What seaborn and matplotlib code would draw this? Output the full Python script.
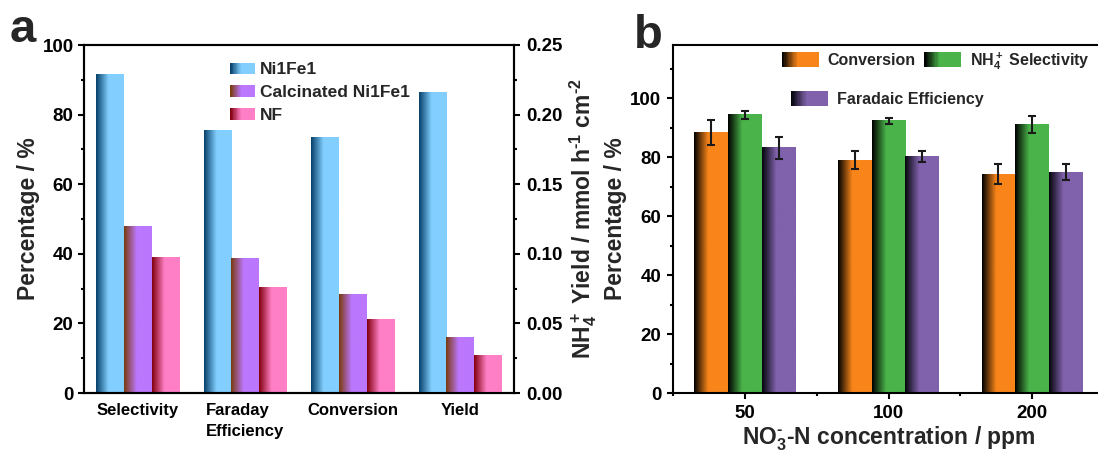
import matplotlib
matplotlib.use("Agg")
import matplotlib.pyplot as plt
import numpy as np
import pandas as pd
import seaborn as sns
from matplotlib.colors import to_rgb
from matplotlib.legend_handler import HandlerBase
from matplotlib.patches import Rectangle
from matplotlib.ticker import FormatStrFormatter, MultipleLocator

# ---- panel a: catalyst comparison ----
METRICS = ["Selectivity", "Faraday\nEfficiency", "Conversion", "Yield"]
SAMPLES = ["Ni1Fe1", "Calcinated Ni1Fe1", "NF"]
NI1FE1_PCT = [91.4, 75.3, 73.5]      # selectivity, FE, conversion (%)
CALC_PCT = [47.9, 38.7, 28.4]
NF_PCT = [39.0, 30.4, 21.2]
YIELD = [0.216, 0.040, 0.027]        # NH4+ yield, mmol h-1 cm-2 (Ni1Fe1, calcinated, NF)
LIGHT_A = ["#82cfff", "#bb77fd", "#ff7fc6"]
DARK_A = ["#06406a", "#7a3a0c", "#82000e"]

# ---- panel b: nitrate concentration ----
CONC = ["50", "100", "200"]
SERIES_B = ["Conversion", r"NH$_4^+$ Selectivity", "Faradaic Efficiency"]
CONVERSION = [88.2, 79.0, 74.2]
CONV_ERR = [4.2, 3.1, 3.3]
SELECTIVITY = [94.3, 92.3, 90.9]
SEL_ERR = [1.35, 1.0, 2.9]
FARADAIC = [83.1, 80.3, 74.9]
FE_ERR = [3.7, 1.9, 2.6]
LIGHT_B = ["#f9851a", "#4ab44a", "#8061ab"]
DARK_B = ["#000000", "#000000", "#05050c"]

sns.set_style("ticks")
plt.rcParams.update({
    "font.family": ["Liberation Sans", "DejaVu Sans"],
    "font.weight": "bold",
    "axes.labelweight": "bold",
    "mathtext.fontset": "custom",
    "mathtext.rm": "Liberation Sans:bold",
    "mathtext.bf": "Liberation Sans:bold",
    "mathtext.it": "Liberation Sans:bold",
    "mathtext.default": "rm",
    "axes.linewidth": 1.5,
    "axes.edgecolor": "black",
    "xtick.color": "black",
    "ytick.color": "black",
})


def ramp_colors(dark, light, n, frac):
    t = np.linspace(0, 1, n)
    r = np.clip(t / frac, 0, 1)[:, None]
    d, l = np.array(to_rgb(dark)), np.array(to_rgb(light))
    return d + (l - d) * r


def gradient_bars(ax, light, dark, frac):
    """Replace the flat seaborn bars with a left-to-right dark->light ramp."""
    lut = {tuple(np.round(to_rgb(c), 3)): (d, c) for c, d in zip(light, dark)}
    for p in list(ax.patches):
        key = tuple(np.round(p.get_facecolor()[:3], 3))
        if key not in lut or not p.get_height():
            continue
        d, l = lut[key]
        img = ramp_colors(d, l, 80, frac)[None, :, :]
        x, w, h = p.get_x(), p.get_width(), p.get_height()
        ax.imshow(img, extent=(x, x + w, 0, h), aspect="auto", origin="lower",
                  interpolation="bilinear", zorder=p.get_zorder())
        p.set_visible(False)


class GradKey:
    def __init__(self, dark, light, frac):
        self.dark, self.light, self.frac = dark, light, frac


class GradHandler(HandlerBase):
    def create_artists(self, legend, orig_handle, xdescent, ydescent,
                       width, height, fontsize, trans):
        n = 30
        cols = ramp_colors(orig_handle.dark, orig_handle.light, n, orig_handle.frac)
        step = width / n
        return [Rectangle((-xdescent + i * step, -ydescent), step * 1.05, height,
                          facecolor=c, edgecolor="none", transform=trans)
                for i, c in enumerate(cols)]


fig = plt.figure(figsize=(10.98, 4.53), dpi=100)
ax_a = fig.add_axes([84 / 1098, 60 / 453, 430 / 1098, 348 / 453])
ax_b = fig.add_axes([673 / 1098, 60 / 453, 431 / 1098, 348 / 453])

# ---------------- panel a ----------------
pct = [NI1FE1_PCT, CALC_PCT, NF_PCT]
df_pct = pd.DataFrame([
    {"metric": m, "sample": s, "value": pct[j][i]}
    for i, m in enumerate(METRICS[:3]) for j, s in enumerate(SAMPLES)
])
df_yield = pd.DataFrame({"metric": METRICS[3], "sample": SAMPLES, "value": YIELD})

sns.barplot(data=df_pct, x="metric", y="value", hue="sample", order=METRICS,
            hue_order=SAMPLES, palette=LIGHT_A, width=0.77, saturation=1,
            legend=False, ax=ax_a)
ax_a2 = ax_a.twinx()
sns.barplot(data=df_yield, x="metric", y="value", hue="sample", order=METRICS,
            hue_order=SAMPLES, palette=LIGHT_A, width=0.77, saturation=1,
            legend=False, ax=ax_a2)
gradient_bars(ax_a, LIGHT_A, DARK_A, 0.45)
gradient_bars(ax_a2, LIGHT_A, DARK_A, 0.45)

ax_a.set_xlim(-0.5, len(METRICS) - 0.5)
ax_a.set_ylim(0, 100)
ax_a2.set_ylim(0, 0.25)
ax_a.set_xticks(range(len(METRICS)))
ax_a.set_xticklabels(METRICS, fontsize=12, fontweight="bold",
                     multialignment="left", linespacing=1.55, va="top")
ax_a.tick_params(axis="x", length=0, pad=7)
ax_a.yaxis.set_major_locator(MultipleLocator(20))
ax_a.yaxis.set_minor_locator(MultipleLocator(10))
ax_a.tick_params(axis="y", which="major", direction="out", length=4.5, width=1.5,
                 labelsize=13.5, pad=3)
ax_a.tick_params(axis="y", which="minor", direction="out", length=2.5, width=1.5)
ax_a2.yaxis.set_major_locator(MultipleLocator(0.05))
ax_a2.yaxis.set_minor_locator(MultipleLocator(0.025))
ax_a2.yaxis.set_major_formatter(FormatStrFormatter("%.2f"))
ax_a2.tick_params(axis="y", which="major", direction="out", length=4.5, width=1.5,
                  labelsize=13.5, pad=4)
ax_a2.tick_params(axis="y", which="minor", direction="out", length=2.5, width=1.5)
for t in ax_a.get_yticklabels() + ax_a2.get_yticklabels():
    t.set_fontweight("bold")
ax_a.set_xlabel("")
ax_a2.set_xlabel("")
ax_a.set_ylabel("Percentage / %", fontsize=16.5, labelpad=2)
ax_a2.set_ylabel(r"NH$_4^+$ Yield / mmol h$^{\text{-}1}$ cm$^{\text{-}2}$",
                 fontsize=16.5, labelpad=4)

ax_a.legend(handles=[GradKey(d, l, 0.45) for d, l in zip(DARK_A, LIGHT_A)],
            labels=SAMPLES, handler_map={GradKey: GradHandler()},
            loc="upper left", bbox_to_anchor=(0.34, 0.95), frameon=False,
            borderpad=0, borderaxespad=0, handlelength=1.4, handleheight=0.65,
            handletextpad=0.3, labelspacing=0.45,
            prop={"size": 12.5, "weight": "bold"})

# ---------------- panel b ----------------
vals_b = [CONVERSION, SELECTIVITY, FARADAIC]
df_b = pd.DataFrame([
    {"conc": c, "series": s, "value": vals_b[j][i]}
    for i, c in enumerate(CONC) for j, s in enumerate(SERIES_B)
])
sns.barplot(data=df_b, x="conc", y="value", hue="series", order=CONC,
            hue_order=SERIES_B, palette=LIGHT_B, width=0.705, saturation=1,
            legend=False, ax=ax_b)

# error bars placed on the bar centres seaborn produced
err_lookup = dict(zip(np.round(CONVERSION + SELECTIVITY + FARADAIC, 2),
                      CONV_ERR + SEL_ERR + FE_ERR))
xs, ys, es = [], [], []
for p in ax_b.patches:
    h = round(p.get_height(), 2)
    if h in err_lookup:
        xs.append(p.get_x() + p.get_width() / 2)
        ys.append(p.get_height())
        es.append(err_lookup[h])
gradient_bars(ax_b, LIGHT_B, DARK_B, 0.42)
ax_b.errorbar(xs, ys, yerr=es, fmt="none", ecolor="#1a1a1a", elinewidth=1.5,
              capsize=3, capthick=1.5, zorder=5)

ax_b.set_xlim(-0.5, len(CONC) - 0.5)
ax_b.set_ylim(0, 118)
ax_b.yaxis.set_major_locator(MultipleLocator(20))
ax_b.yaxis.set_minor_locator(MultipleLocator(10))
ax_b.xaxis.set_minor_locator(MultipleLocator(1, offset=0.5))
ax_b.tick_params(which="major", direction="out", length=4.5, width=1.5,
                 labelsize=13.5, pad=4)
ax_b.tick_params(which="minor", direction="out", length=2.5, width=1.5)
for t in ax_b.get_xticklabels() + ax_b.get_yticklabels():
    t.set_fontweight("bold")
ax_b.set_xlabel(r"NO$_3^{\text{-}}$-N concentration / ppm", fontsize=16.5, labelpad=2)
ax_b.set_ylabel("Percentage / %", fontsize=16.5, labelpad=2)

keys_b = [GradKey(d, l, 0.42) for d, l in zip(DARK_B, LIGHT_B)]
leg_b1 = ax_b.legend(handles=keys_b[:2], labels=SERIES_B[:2],
                     handler_map={GradKey: GradHandler()}, ncol=2,
                     loc="upper left", bbox_to_anchor=(0.253, 0.986), frameon=False,
                     borderpad=0, borderaxespad=0, handlelength=2.3, handleheight=1.1,
                     handletextpad=0.55, columnspacing=0.55,
                     prop={"size": 11.5, "weight": "bold"})
ax_b.add_artist(leg_b1)
ax_b.legend(handles=keys_b[2:], labels=SERIES_B[2:],
            handler_map={GradKey: GradHandler()},
            loc="upper left", bbox_to_anchor=(0.274, 0.868), frameon=False,
            borderpad=0, borderaxespad=0, handlelength=2.3, handleheight=1.1,
            handletextpad=0.55, prop={"size": 11.5, "weight": "bold"})

for ax in (ax_a, ax_a2, ax_b):
    for sp in ax.spines.values():
        sp.set_visible(True)
        sp.set_linewidth(1.5)

fig.text(10 / 1098, 1 - 42 / 453, "a", fontsize=34, fontweight="bold", va="baseline")
fig.text(634 / 1098, 1 - 48 / 453, "b", fontsize=34, fontweight="bold", va="baseline")

fig.savefig("out.png", dpi=100)
